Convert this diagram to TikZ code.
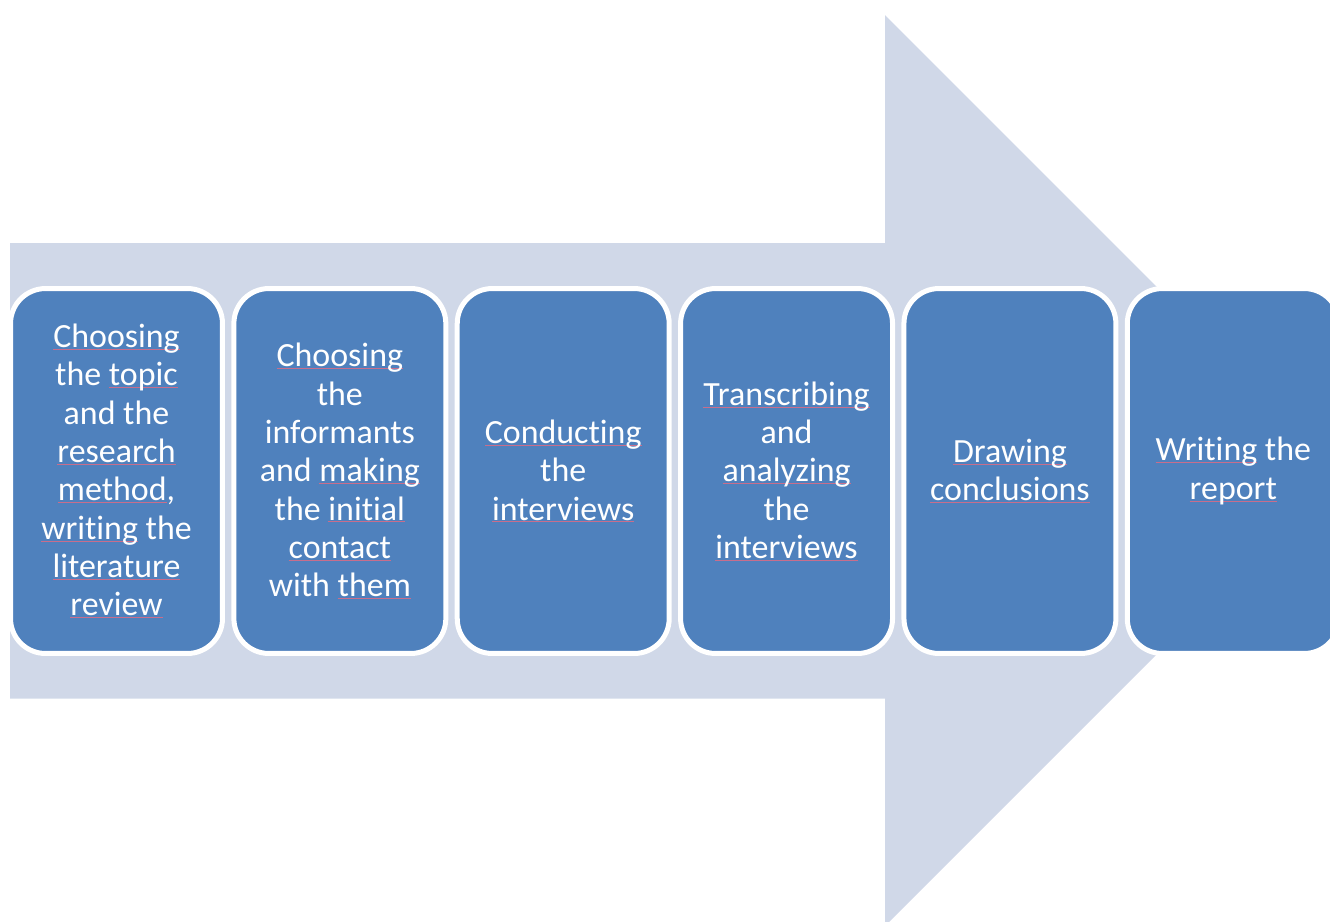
\documentclass[tikz,border=0pt]{standalone}
\usepackage{fontspec}
\setmainfont{Carlito}[Ligatures=NoCommon]
\usepackage{xcolor}
\usepackage{tikz}
\usetikzlibrary{positioning}

\definecolor{shaftgray}{HTML}{D0D8E8}
\definecolor{stepblue}{HTML}{4F81BD}
\definecolor{spellred}{HTML}{C86E8C}

% red proofing mark under a word
\newsavebox\spchkbox
\newcommand\spchk[1]{\leavevmode\sbox\spchkbox{#1}%
  \rlap{\color{spellred}\rule[-1.2pt]{\wd\spchkbox}{0.4pt}}\usebox\spchkbox}

\tikzset{
  stepbox/.style={draw=white, line width=0.1cm, fill=stepblue, rounded corners=0.7cm,
    minimum width=4.24cm, minimum height=7.3cm, inner sep=0pt, outer sep=0pt,
    align=center, text=white, font=\fontsize{19.3}{21.8}\selectfont}
}

\begin{document}
\begin{tikzpicture}[x=0.02cm, y=-0.02cm]
  % Bounding box
  \useasboundingbox (0,0) rectangle (1330,921);
  \clip (0,0) rectangle (1330,921);

  % Big background arrow
  \fill[shaftgray] (10,243) -- (885,243) -- (885,15) -- (1340.5,470.5)
    -- (885,926) -- (885,698.7) -- (10,698.7) -- cycle;

  % Steps of the study
  \node[stepbox] (choose) at (116.5,471)
    {\spchk{Choosing}\\the \spchk{topic}\\and the\\\spchk{research}\\\spchk{method},\\\spchk{writing} the\\\spchk{literature}\\\spchk{review}};
  \node[stepbox, right=0.228cm of choose] (inform)
    {\spchk{Choosing}\\the\\informants\\and \spchk{making}\\the \spchk{initial}\\\spchk{contact}\\with \spchk{them}};
  \node[stepbox, right=0.228cm of inform] (conduct)
    {\spchk{Conducting}\\the\\\spchk{interviews}};
  \node[stepbox, right=0.228cm of conduct] (analyse)
    {\spchk{Transcribing}\\and\\\spchk{analyzing}\\the\\\spchk{interviews}};
  \node[stepbox, right=0.228cm of analyse] (conclude)
    {\spchk{Drawing}\\\spchk{conclusions}};
  \node[stepbox, right=0.228cm of conclude] (report)
    {\spchk{Writing} the\\\spchk{report}};
\end{tikzpicture}
\end{document}
